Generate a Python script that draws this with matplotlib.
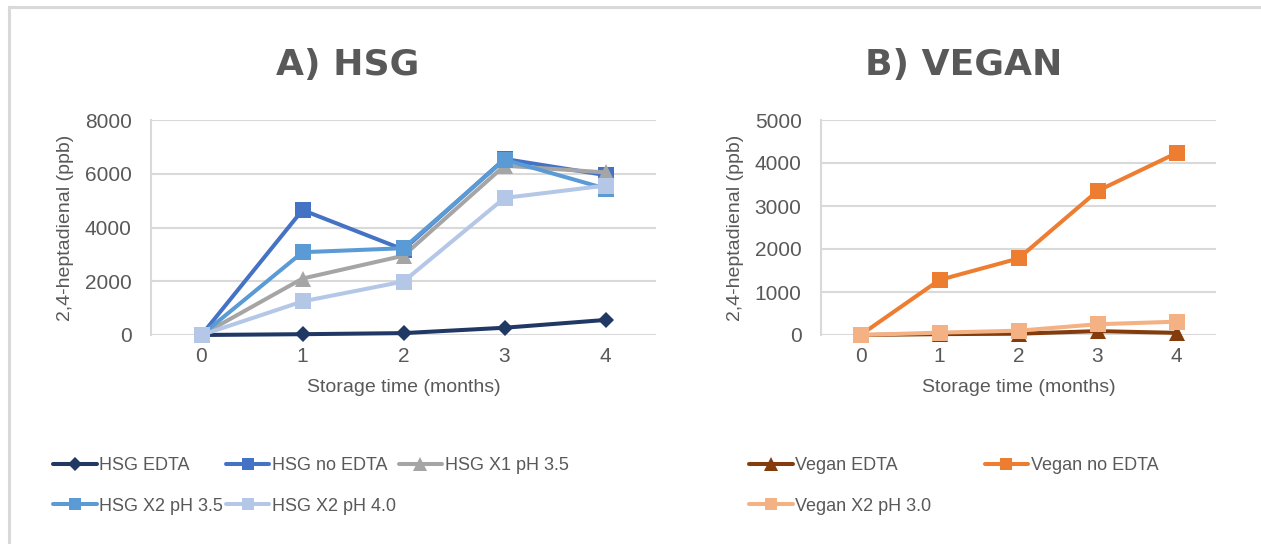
import matplotlib
matplotlib.use("Agg")
import matplotlib.pyplot as plt
from matplotlib.lines import Line2D

# Storage time axis
months = [0, 1, 2, 3, 4]

# HSG series (ppb)
hsg_edta = [0, 30, 70, 270, 560]
hsg_no_edta = [0, 4650, 3180, 6550, 5950]
hsg_x1_ph35 = [0, 2100, 2950, 6300, 6050]
hsg_x2_ph35 = [0, 3080, 3230, 6520, 5450]
hsg_x2_ph40 = [0, 1250, 1990, 5100, 5560]

# Vegan series (ppb)
vegan_edta = [0, 20, 30, 90, 50]
vegan_no_edta = [0, 1280, 1780, 3350, 4230]
vegan_x2_ph30 = [0, 55, 100, 250, 310]

hsg_ticks = [0, 2000, 4000, 6000, 8000]
vegan_ticks = [0, 1000, 2000, 3000, 4000, 5000]

TEXT = "#595959"
GRID = "#D9D9D9"
FONT = ["Liberation Sans", "DejaVu Sans"]

plt.rcParams["font.family"] = FONT

fig = plt.figure(figsize=(12.61, 5.44), dpi=100)

# outer chart frame
fig.add_artist(Line2D([9 / 1261, 1.01], [1 - 6.5 / 544] * 2,
                      transform=fig.transFigure, color=GRID, lw=2.2))
fig.add_artist(Line2D([9 / 1261] * 2, [1 - 6.5 / 544, -0.01],
                      transform=fig.transFigure, color=GRID, lw=2.2))

ax1 = fig.add_axes([151 / 1261, 209 / 544, 505 / 1261, 215 / 544])
ax2 = fig.add_axes([821 / 1261, 209 / 544, 395 / 1261, 215 / 544])

LW = 2.9

series_hsg = [
    ("HSG EDTA", hsg_edta, "#203864", "D", 8.5),
    ("HSG no EDTA", hsg_no_edta, "#4472C4", "s", 11),
    ("HSG X1 pH 3.5", hsg_x1_ph35, "#A5A5A5", "^", 12),
    ("HSG X2 pH 3.5", hsg_x2_ph35, "#5B9BD5", "s", 11),
    ("HSG X2 pH 4.0", hsg_x2_ph40, "#B4C7E7", "s", 11),
]
series_vegan = [
    ("Vegan EDTA", vegan_edta, "#843C0C", "^", 12),
    ("Vegan no EDTA", vegan_no_edta, "#ED7D31", "s", 11),
    ("Vegan X2 pH 3.0", vegan_x2_ph30, "#F4B183", "s", 11),
]


def draw(ax, series, ticks, ylim):
    handles = []
    for label, vals, col, mk, ms in series:
        h, = ax.plot(months, vals, color=col, lw=LW, marker=mk, markersize=ms,
                     markeredgewidth=0, label=label, solid_capstyle="round",
                     clip_on=False, zorder=3)
        handles.append(h)
    ax.set_xlim(-0.5, 4.5)
    ax.set_ylim(*ylim)
    ax.set_yticks(ticks)
    ax.set_xticks(months)
    ax.grid(axis="y", color=GRID, lw=1.5)
    ax.set_axisbelow(True)
    for s in ("top", "right", "bottom"):
        ax.spines[s].set_visible(False)
    ax.spines["left"].set_color(GRID)
    ax.spines["left"].set_linewidth(1.5)
    ax.tick_params(length=0, colors=TEXT, labelsize=15)
    ax.tick_params(axis="y", pad=14)
    ax.tick_params(axis="x", pad=9)
    ax.set_xlabel("Storage time (months)", color=TEXT, fontsize=14, labelpad=9)
    ax.set_ylabel("2,4-heptadienal (ppb)", color=TEXT, fontsize=14, labelpad=8)
    return handles


h1 = draw(ax1, series_hsg, hsg_ticks, (0, 8000))
h2 = draw(ax2, series_vegan, vegan_ticks, (0, 5000))

fig.text(348 / 1261, 1 - 65 / 544, "A) HSG", ha="center", va="center",
         fontsize=26, fontweight="bold", color=TEXT, family="DejaVu Sans")
fig.text(964 / 1261, 1 - 65 / 544, "B) VEGAN", ha="center", va="center",
         fontsize=26, fontweight="bold", color=TEXT, family="DejaVu Sans")

leg_kw = dict(frameon=False, handlelength=2.4, handletextpad=0.15,
              labelcolor=TEXT, markerscale=0.8, borderaxespad=0, labelspacing=1.3,
              fontsize=13)

# row-wise ordering across three columns
order = [h1[0], h1[3], h1[1], h1[4], h1[2]]
fig.legend(handles=order, labels=[h.get_label() for h in order], ncol=3,
           loc="upper left", bbox_to_anchor=(46 / 1261, 1 - 450 / 544),
           columnspacing=0.15, **leg_kw)

order2 = [h2[0], h2[2], h2[1]]
fig.legend(handles=order2, labels=[h.get_label() for h in order2], ncol=2,
           loc="upper left", bbox_to_anchor=(742 / 1261, 1 - 450 / 544),
           columnspacing=2.95, **leg_kw)

fig.savefig("out.png", dpi=100, facecolor="white")
